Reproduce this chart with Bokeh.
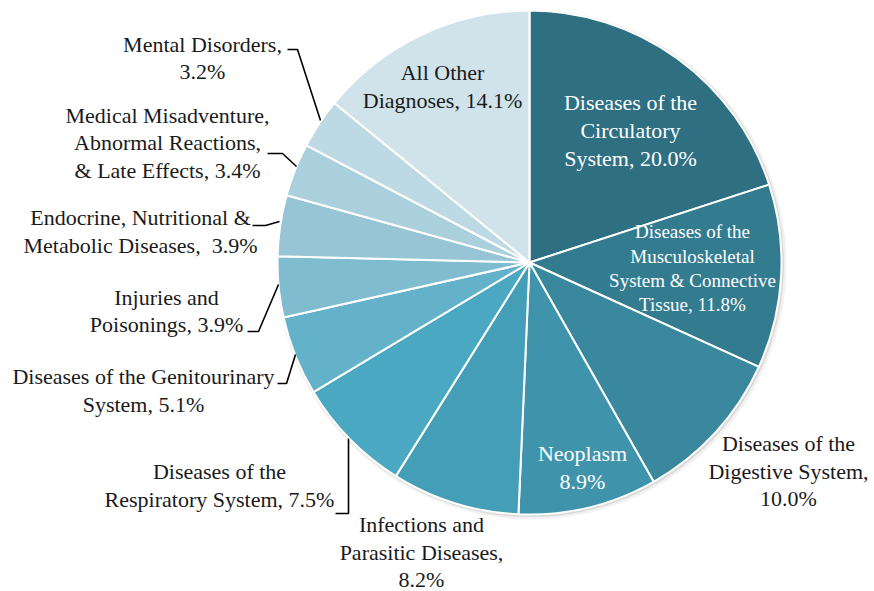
import math
from bokeh.plotting import figure
from bokeh.models import Range1d, ColumnDataSource
from bokeh.core.properties import value
from bokeh.embed import file_html
from bokeh.resources import INLINE

# ---- data -------------------------------------------------------------
categories = [
    "Diseases of the Circulatory System",
    "Diseases of the Musculoskeletal System & Connective Tissue",
    "Diseases of the Digestive System",
    "Neoplasm",
    "Infections and Parasitic Diseases",
    "Diseases of the Respiratory System",
    "Diseases of the Genitourinary System",
    "Injuries and Poisonings",
    "Endocrine, Nutritional & Metabolic Diseases",
    "Medical Misadventure, Abnormal Reactions, & Late Effects",
    "Mental Disorders",
    "All Other Diagnoses",
]
shares = [20.0, 11.8, 10.0, 8.9, 8.2, 7.5, 5.1, 3.9, 3.9, 3.4, 3.2, 14.1]
label_lines = [
    ["Diseases of the", "Circulatory", "System, 20.0%"],
    ["Diseases of the", "Musculoskeletal", "System & Connective", "Tissue, 11.8%"],
    ["Diseases of the", "Digestive System,", "10.0%"],
    ["Neoplasm", "8.9%"],
    ["Infections and", "Parasitic Diseases,", "8.2%"],
    ["Diseases of the", "Respiratory System, 7.5%"],
    ["Diseases of the Genitourinary", "System, 5.1%"],
    ["Injuries and", "Poisonings, 3.9%"],
    ["Endocrine, Nutritional &", "Metabolic Diseases,\u00a0 3.9%"],
    ["Medical Misadventure,", "Abnormal Reactions,", "& Late Effects, 3.4%"],
    ["Mental Disorders,", "3.2%"],
    ["All Other", "Diagnoses, 14.1%"],
]

# ---- style / layout ------------------------------------------------------
colors = ["#2F6F82", "#337C90", "#3A889E", "#3F94AC", "#449EB8", "#4AA8C3",
          "#64B2CA", "#80BCD0", "#97C5D6", "#AACFDD", "#BDD9E3", "#D0E3EA"]
text_colors = ["white", "white", "#1a1a1a", "white", "#1a1a1a", "#1a1a1a",
               "#1a1a1a", "#1a1a1a", "#1a1a1a", "#1a1a1a", "#1a1a1a", "#1a1a1a"]
font_sizes = ["22px", "19px", "22px", "22px", "22px", "22px",
              "22px", "22px", "22px", "22px", "22px", "22px"]
# label anchor: centre x and the baselines of each line (screen pixels)
label_x = [630, 692, 788, 582, 421, 219, 143, 166, 140, 167, 202, 442]
label_baselines = [
    [109, 137, 165],
    [238, 263, 287, 311],
    [450, 478, 505],
    [460, 488],
    [531, 559, 586],
    [478, 506],
    [383, 411],
    [304, 331],
    [224, 252],
    [122, 149, 177],
    [51, 78],
    [79, 107],
]
TEXT_SHIFT = -7  # renderer's baseline offset correction
leaders = [
    [(287, 49), (297, 49), (320, 120)],
    [(267, 153), (282, 153), (296, 166)],
    [(252, 225), (265, 225), (279, 221)],
    [(247, 331), (258, 331), (278, 284)],
    [(277, 383), (286, 383), (295, 354)],
    [(335, 513), (348, 513), (348, 438)],
]

CX, CY, R = 529, 262, 252
PAGE_W, PAGE_H = 874, 591


def Y(sy):
    return PAGE_H - sy


p = figure(width=PAGE_W, height=PAGE_H, x_range=Range1d(0, PAGE_W), y_range=Range1d(0, PAGE_H),
           output_backend="svg", toolbar_location=None, min_border=0,
           x_axis_location=None, y_axis_location=None)
p.grid.visible = False
p.outline_line_color = None
p.background_fill_color = "white"

# soft shadow
p.circle(x=[CX + 2], y=[Y(CY + 2)], radius=R + 3, radius_units="screen",
         fill_color="black", fill_alpha=0.05, line_color=None)
p.circle(x=[CX + 1], y=[Y(CY + 1)], radius=R + 1.5, radius_units="screen",
         fill_color="black", fill_alpha=0.10, line_color=None)

# wedges
total = sum(shares)
starts, ends = [], []
cum = 0.0
for s in shares:
    starts.append(math.pi / 2 - 2 * math.pi * cum / total)
    cum += s
    ends.append(math.pi / 2 - 2 * math.pi * cum / total)

src = ColumnDataSource(dict(cat=categories, share=shares, start=starts, end=ends,
                            color=colors, x=[CX] * len(shares), y=[Y(CY)] * len(shares)))
p.wedge(x="x", y="y", radius=R, radius_units="screen", start_angle="start",
        end_angle="end", direction="clock", fill_color="color", line_color="white",
        line_width=2, source=src)

# labels
tx, ty, tt, tc, ts = [], [], [], [], []
for i, lines in enumerate(label_lines):
    for line, base in zip(lines, label_baselines[i]):
        tx.append(label_x[i])
        ty.append(Y(base + TEXT_SHIFT))
        tt.append(line)
        tc.append(text_colors[i])
        ts.append(font_sizes[i])
tsrc = ColumnDataSource(dict(x=tx, y=ty, text=tt, color=tc, size=ts))
p.text(x="x", y="y", text="text", text_color="color", text_font_size="size",
       text_font=value("Liberation Serif"), text_align="center",
       text_baseline="alphabetic", source=tsrc)

# leader lines
p.multi_line(xs=[[pt[0] for pt in L] for L in leaders],
             ys=[[Y(pt[1]) for pt in L] for L in leaders],
             line_color="black", line_width=1.6)

open("out.html", "w").write(file_html(p, INLINE))
